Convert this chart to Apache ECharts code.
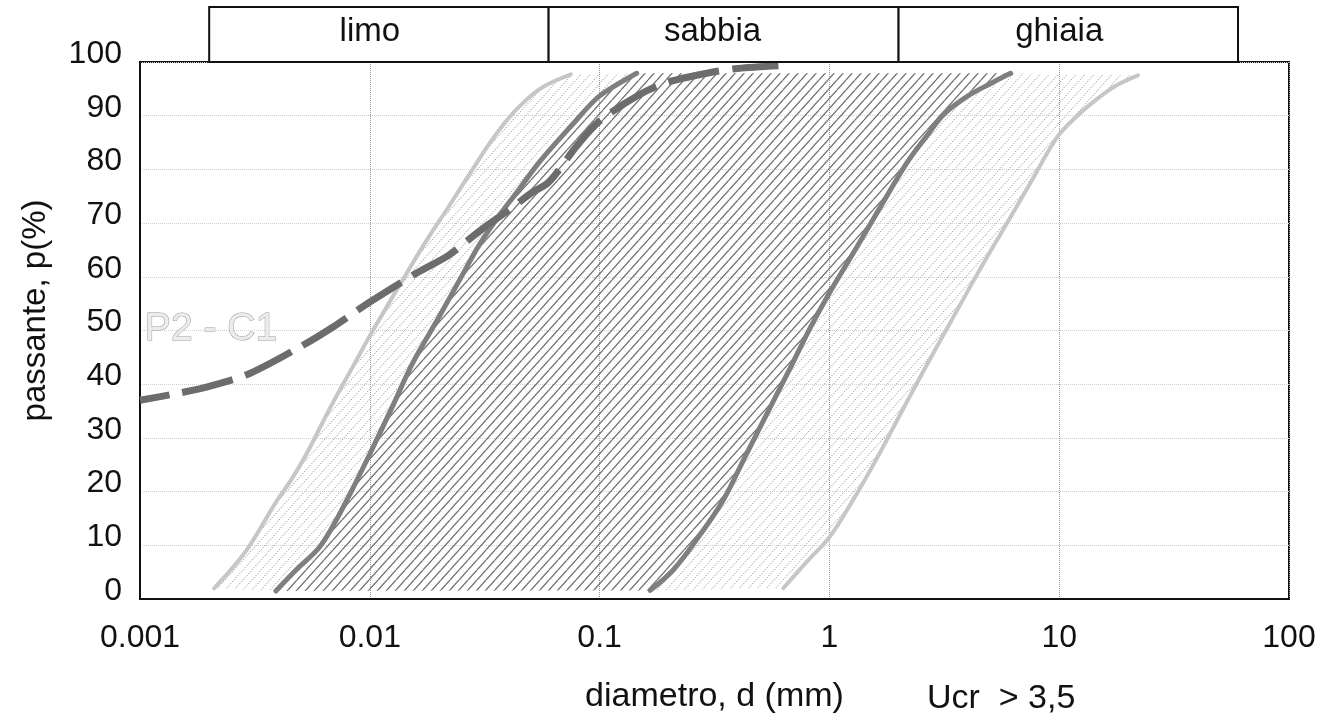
<!DOCTYPE html>
<html><head><meta charset="utf-8">
<script src="https://cdn.jsdelivr.net/npm/echarts@6/dist/echarts.min.js"></script>
<style>html,body{margin:0;padding:0;background:#fff}#c{width:1340px;height:724px}</style>
</head><body><div id="c"></div>
<script>
// ---- data ----
const xTickLabels = ['0.001', '0.01', '0.1', '1', '10', '100'];
const zones = ['limo', 'sabbia', 'ghiaia'];
const zoneBounds = [[0.002, 0.06], [0.06, 2], [2, 60]];
const zoneLabelAt = [0.01, 0.31, 10];

// fuso granulometrico: outer (light) and inner (dark) limits, [diametro mm, passante %]
const outerLeft = [[0.0021,2],[0.0029,9],[0.0039,18],[0.0046,22.5],[0.0053,27],[0.0068,36],[0.0085,43.5],[0.01,49],[0.0135,58.5],[0.0175,66.5],[0.022,73],[0.028,80],[0.034,85.5],[0.042,90.5],[0.055,95],[0.075,97.7]];
const innerLeft = [[0.0039,1.5],[0.0048,5.5],[0.006,9.5],[0.007,14],[0.0083,20],[0.01,27],[0.0126,36],[0.0154,44],[0.02,52.5],[0.0254,60.5],[0.03,66],[0.0367,71.5],[0.045,76.5],[0.055,81.5],[0.0767,88.5],[0.097,93.2],[0.115,95.4],[0.145,97.9]];
const innerRight = [[0.166,1.6],[0.21,5.5],[0.274,12],[0.346,18.5],[0.43,26.5],[0.535,34.5],[0.675,43],[0.825,50.5],[1.0,57],[1.315,65.5],[1.72,74],[2.18,81.3],[2.66,86.3],[3.15,90.3],[3.98,93.6],[5.03,96],[6.14,97.9]];
const outerRight = [[0.63,2],[0.8,7],[1.0,11.5],[1.27,18.5],[1.6,26],[2.04,34.5],[2.57,42.5],[3.36,51.5],[4.4,60.5],[5.74,69],[7.5,77.5],[9.8,86],[12,90],[14.5,93],[17.5,95.5],[22,97.5]];
// campione P2 - C1
const sampleName = 'P2 - C1';
const sampleP2C1 = [[0.001,37],[0.0015,38.4],[0.002,39.6],[0.003,42],[0.005,47],[0.007,50.8],[0.01,55.3],[0.016,60.7],[0.022,64],[0.03,68.5],[0.042,73],[0.05,75.5],[0.06,77.6],[0.08,84.5],[0.1,89],[0.15,94],[0.2,96.3],[0.3,98],[0.4,98.8],[0.6,99.3]];
const sampleLabelAt = [0.00105, 50.3];
const noteText = 'Ucr  > 3,5';

// ---- helpers ----
function hatch(w, h, color, lw, dash) {
  const c = document.createElement('canvas');
  c.width = w; c.height = h;
  const g = c.getContext('2d');
  g.strokeStyle = color; g.lineWidth = lw;
  if (dash) g.setLineDash(dash);
  g.beginPath();
  for (let k = -1; k <= 1; k++) { g.moveTo(k * w, h); g.lineTo(k * w + w, 0); }
  g.stroke();
  return c;
}
const darkHatch = hatch(9, 10, '#727272', 1.3, null);
const lightHatch = hatch(9, 10, '#a8a8a8', 1, [1.5, 1.2]);

function band(left, right, pattern) {
  return {
    type: 'custom', xAxisIndex: 0, yAxisIndex: 0, z: 1, silent: true,
    data: [left[0]],
    renderItem(params, api) {
      const pts = left.map(p => api.coord(p)).concat(right.slice().reverse().map(p => api.coord(p)));
      return { type: 'polygon', shape: { points: pts }, style: { fill: { image: pattern, repeat: 'repeat' }, stroke: null } };
    }
  };
}
function curve(data, color, width, z) {
  return { type: 'line', xAxisIndex: 0, yAxisIndex: 0, data, smooth: 0.35, showSymbol: false, silent: true, z,
    lineStyle: { color, width, cap: 'round' } };
}

const FONT = 'Liberation Sans, Arial, Helvetica, sans-serif';
const chart = echarts.init(document.getElementById('c'), null, { renderer: 'canvas' });
chart.setOption({
  animation: false,
  backgroundColor: '#fff',
  textStyle: { fontFamily: FONT },
  title: { text: noteText, left: 927, top: 682, padding: 0,
    textStyle: { fontSize: 34, fontWeight: 'normal', color: '#111', fontFamily: FONT } },
  grid: [
    { left: 140, right: 51, top: 62, bottom: 125, show: true, borderColor: '#111', borderWidth: 2 },
    { left: 140, right: 51, top: 7, height: 55 }
  ],
  xAxis: [
    { type: 'log', logBase: 10, min: 0.001, max: 100, gridIndex: 0,
      axisLine: { show: true, lineStyle: { color: '#111', width: 2 } },
      axisTick: { show: false },
      axisLabel: { fontSize: 32, color: '#111', margin: 23, fontFamily: FONT,
        formatter: v => xTickLabels[Math.round(Math.log10(v)) + 3] },
      splitLine: { show: true, lineStyle: { type: 'dotted', color: '#9a9a9a', width: 1 } },
      name: 'diametro, d (mm)', nameLocation: 'middle', nameGap: 81,
      nameTextStyle: { fontSize: 34, color: '#111', fontFamily: FONT } },
    { type: 'log', logBase: 10, min: 0.001, max: 100, gridIndex: 1, show: false }
  ],
  yAxis: [
    { type: 'value', min: 0, max: 100, interval: 10, gridIndex: 0,
      axisLine: { show: true, lineStyle: { color: '#111', width: 2 } },
      axisTick: { show: false },
      axisLabel: { fontSize: 32, color: '#111', margin: 18, verticalAlign: 'bottom', lineHeight: 16, fontFamily: FONT },
      splitLine: { show: true, lineStyle: { type: 'dotted', color: '#d0d0d0', width: 1 } },
      name: 'passante, p(%)', nameLocation: 'middle', nameGap: 88,
      nameTextStyle: { fontSize: 33, color: '#111', padding: [0, 0, 0, 40], fontFamily: FONT } },
    { type: 'value', min: 0, max: 1, gridIndex: 1, show: false }
  ],
  series: [
    band(outerLeft, innerLeft, lightHatch),
    band(innerLeft, innerRight, darkHatch),
    band(innerRight, outerRight, lightHatch),
    curve(outerLeft, '#c6c6c6', 4, 3),
    curve(outerRight, '#c6c6c6', 4, 3),
    curve(innerLeft, '#7f7f7f', 5, 4),
    curve(innerRight, '#7f7f7f', 5, 4),
    { type: 'line', name: sampleName, xAxisIndex: 0, yAxisIndex: 0, data: sampleP2C1, smooth: 0.3,
      showSymbol: false, silent: true, z: 5,
      lineStyle: { color: '#6c6c6c', width: 7, type: [52, 13], dashOffset: 22, cap: 'butt' },
      markPoint: { silent: true, symbol: 'circle', symbolSize: 0,
        data: [{ coord: sampleLabelAt }],
        label: { show: true, position: 'right', distance: 0, formatter: sampleName,
          fontSize: 39, color: '#ececec', textBorderColor: '#9a9a9a', textBorderWidth: 1, fontFamily: FONT } } },
    { type: 'custom', xAxisIndex: 1, yAxisIndex: 1, silent: true, z: 6,
      data: zoneBounds.map(b => [b[0], 0.5]),
      renderItem(params, api) {
        const i = params.dataIndex;
        const p0 = api.coord([zoneBounds[i][0], 1]);
        const p1 = api.coord([zoneBounds[i][1], 0]);
        const pc = api.coord([zoneLabelAt[i], 0.55]);
        return { type: 'group', children: [
          { type: 'rect', shape: { x: p0[0], y: p0[1], width: p1[0] - p0[0], height: p1[1] - p0[1] },
            style: { fill: '#fff', stroke: '#111', lineWidth: 2 } },
          { type: 'text', x: pc[0], y: pc[1],
            style: { text: zones[i], fontSize: 33, fill: '#111', align: 'center', verticalAlign: 'middle', fontFamily: FONT } }
        ] };
      } }
  ]
});
</script>
</body></html>
